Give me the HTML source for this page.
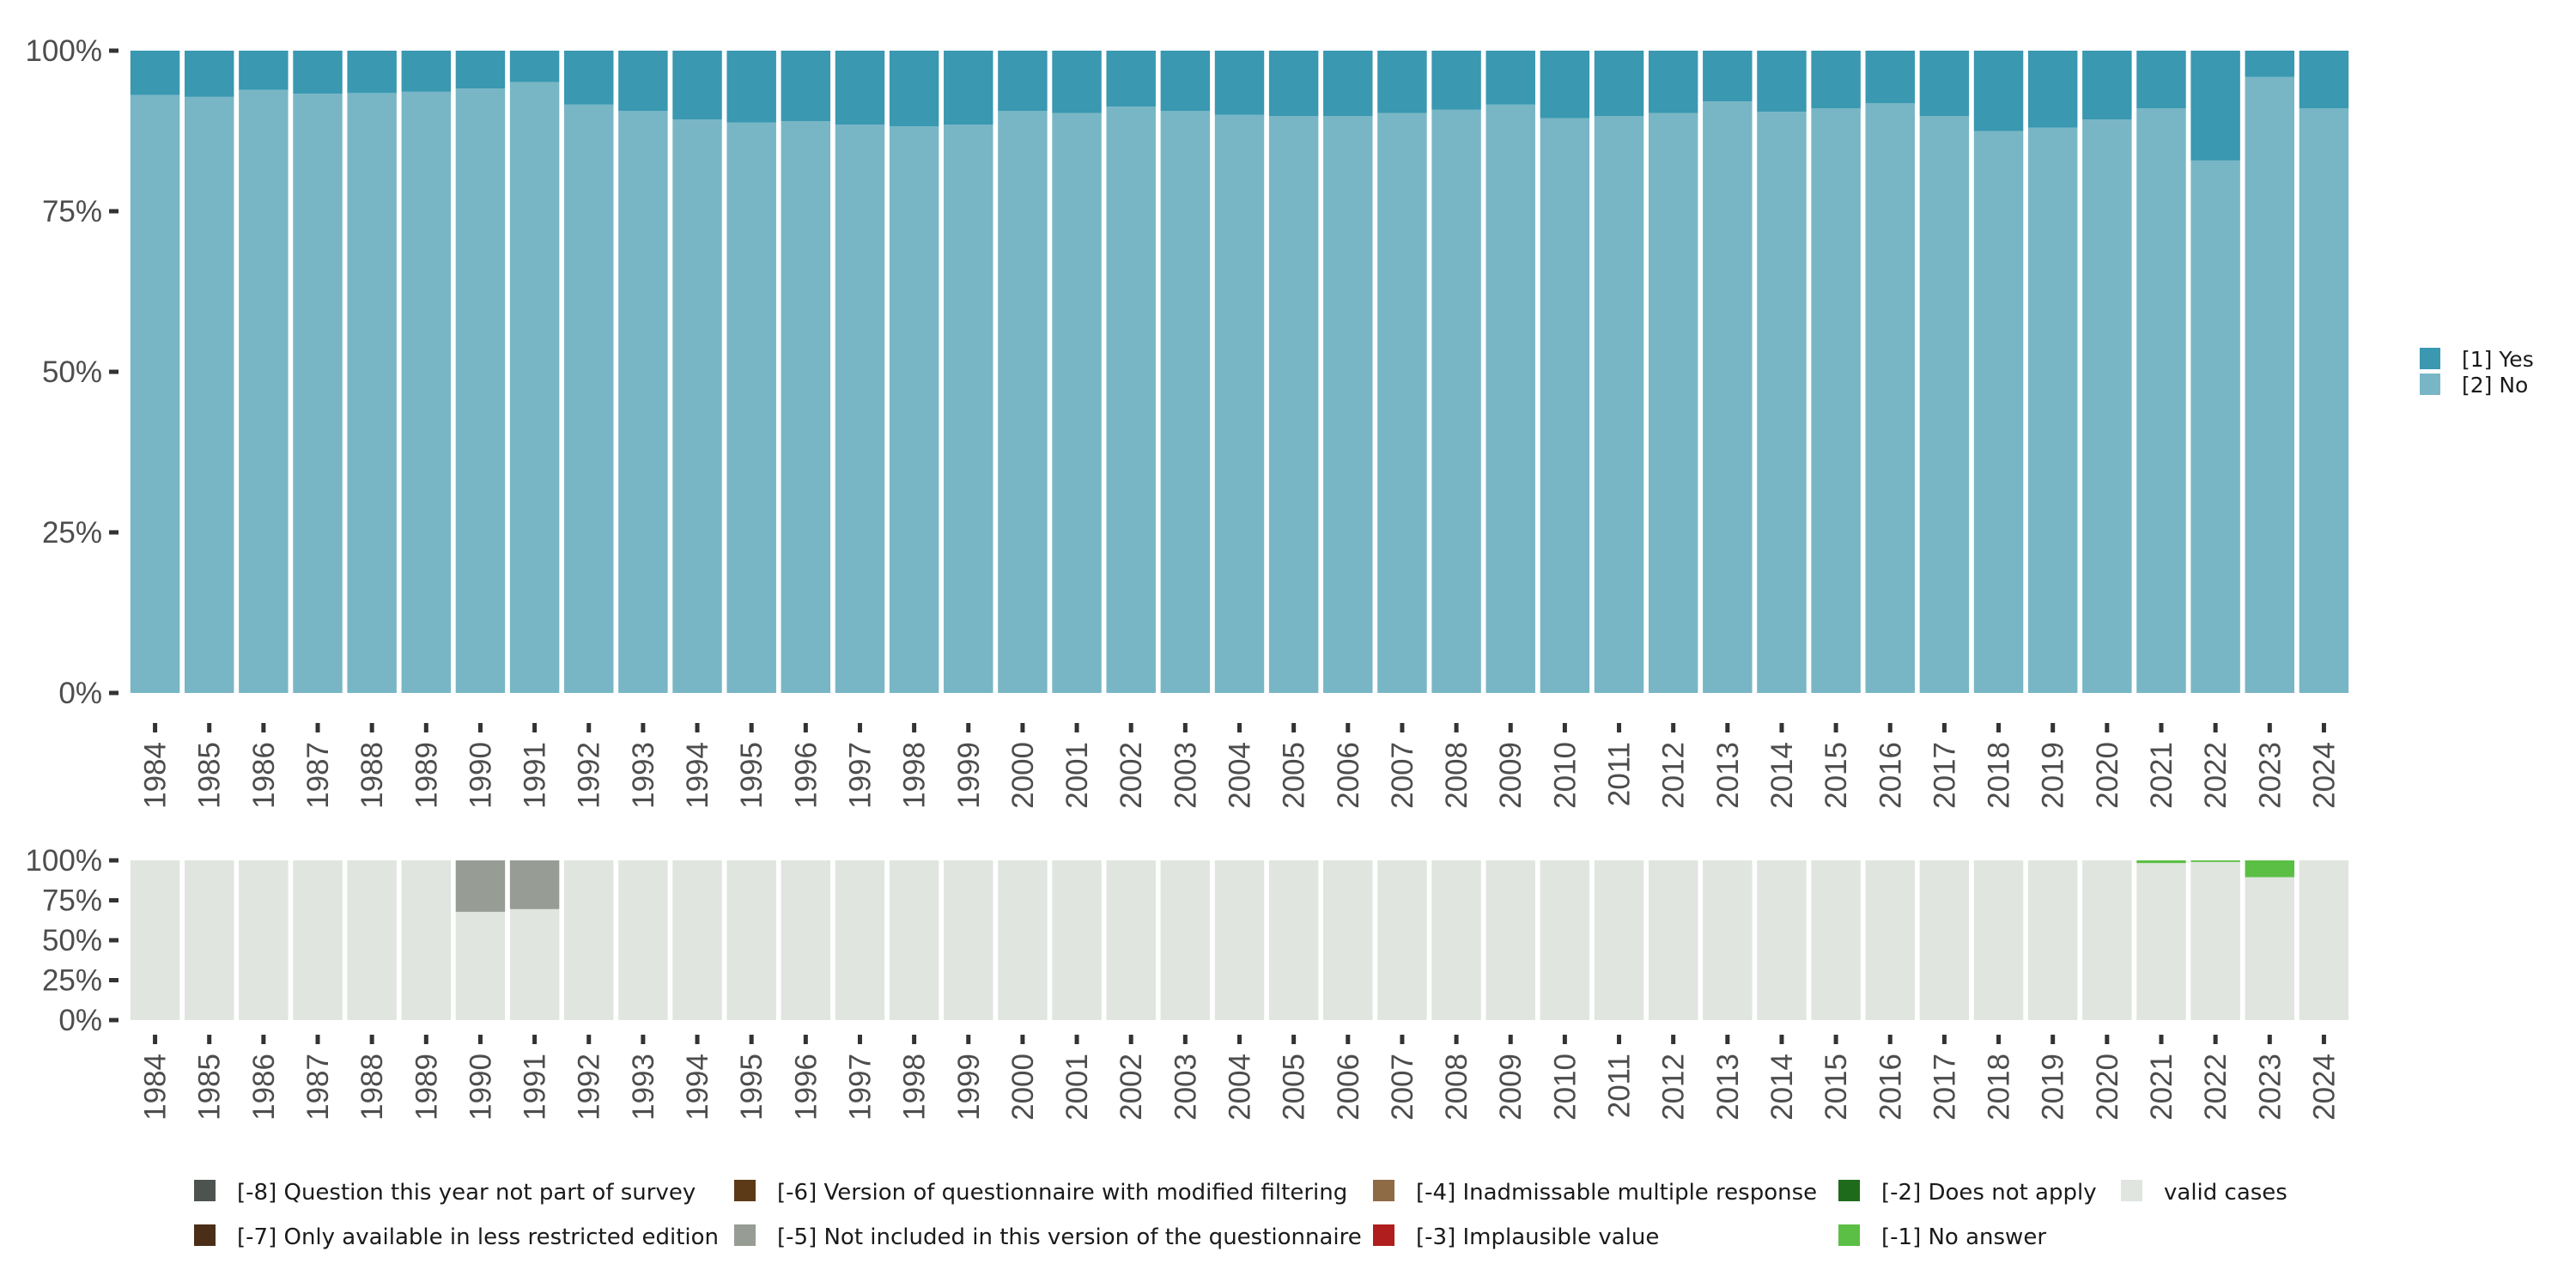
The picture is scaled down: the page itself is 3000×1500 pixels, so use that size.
<!DOCTYPE html>
<html><head><meta charset="utf-8">
<style>
html,body{margin:0;padding:0;background:#fff;}
svg{display:block;font-family:"Liberation Sans","DejaVu Sans",sans-serif;}
</style></head>
<body>
<svg id="chart" width="3000" height="1500" viewBox="0 0 3000 1500" xmlns="http://www.w3.org/2000/svg">
<g id="top"></g>
<g id="bottom"></g>
<g id="legend-right"></g>
<g id="legend-bottom"></g>
</svg>
<script>
const years = [1984,1985,1986,1987,1988,1989,1990,1991,1992,1993,1994,1995,1996,1997,1998,1999,2000,2001,2002,2003,2004,2005,2006,2007,2008,2009,2010,2011,2012,2013,2014,2015,2016,2017,2018,2019,2020,2021,2022,2023,2024];
const noPct = [93.1,92.8,93.9,93.3,93.4,93.6,94.1,95.1,91.6,90.6,89.3,88.8,89.0,88.5,88.2,88.5,90.6,90.3,91.3,90.6,90.0,89.8,89.8,90.3,90.8,91.6,89.5,89.8,90.3,92.1,90.5,91.0,91.8,89.8,87.5,88.0,89.3,91.0,82.9,95.9,91.0];
const validPct = [100,100,100,100,100,100,67.8,69.5,100,100,100,100,100,100,100,100,100,100,100,100,100,100,100,100,100,100,100,100,100,100,100,100,100,100,100,100,100,98.3,99.0,89.5,100];
const notIncludedPct = [0,0,0,0,0,0,32.2,30.5,0,0,0,0,0,0,0,0,0,0,0,0,0,0,0,0,0,0,0,0,0,0,0,0,0,0,0,0,0,0,0,0,0];
const noAnswerPct = [0,0,0,0,0,0,0,0,0,0,0,0,0,0,0,0,0,0,0,0,0,0,0,0,0,0,0,0,0,0,0,0,0,0,0,0,0,1.7,1.0,10.5,0];
const yTicks = [0,25,50,75,100];
const yTickLabels = ["0%","25%","50%","75%","100%"];
const legendBottomLabels = ["[-8] Question this year not part of survey","[-7] Only available in less restricted edition","[-6] Version of questionnaire with modified filtering","[-5] Not included in this version of the questionnaire","[-4] Inadmissable multiple response","[-3] Implausible value","[-2] Does not apply","[-1] No answer","valid cases"];
const legendBottomColors = ["#4d5450","#4a2e17","#5c3a17","#979c95","#8e6a45","#b01e1e","#1e6b1c","#5cbf45","#e0e5e0"];

const NS="http://www.w3.org/2000/svg";
function mk(parent,tag,attrs){const e=document.createElementNS(NS,tag);for(const k in attrs)e.setAttribute(k,attrs[k]);parent.appendChild(e);return e;}
const X0=149,X1=2738,band=(X1-X0)/years.length,bw=band*0.91;
const xPos=i=>X0+band*i+(band-bw)/2;
const xMid=i=>X0+band*(i+0.5);

function panel(g,top,bottom,stacks,labelTickY){
  const ys=v=>bottom-(bottom-top)*v/100;
  yTicks.forEach((t,k)=>{
    const tk=mk(g,'rect',{x:127,y:ys(t)-2.5,width:11,height:5,fill:'#333'});
    
    
    const tx=mk(g,'text',{x:119,y:ys(t)+12,'text-anchor':'end','font-size':35,fill:'#4d4d4d'});
    tx.textContent=yTickLabels[k];
    
    
  });
  years.forEach((yr,i)=>{
    let base=0;
    stacks.forEach(s=>{
      const v=s.vals[i];
      if(v>0){
        const r=mk(g,'rect',{x:xPos(i),y:ys(base+v),width:bw,height:ys(base)-ys(base+v),fill:s.color});
        
        
      }
      base+=v;
    });
    const tk=mk(g,'rect',{x:xMid(i)-2.5,y:labelTickY,width:5,height:11,fill:'#333'});
    
    
    const tx=mk(g,'text',{x:0,y:0,'text-anchor':'end','font-size':35,fill:'#4d4d4d',transform:`translate(${xMid(i)+12},${labelTickY+22}) rotate(-90)`});
    tx.textContent=yr;
    
    
  });
}
const yesPct=noPct.map(v=>100-v);
panel(document.getElementById('top'),59,807,[{name:'no',vals:noPct,color:'#78b6c5'},{name:'yes',vals:yesPct,color:'#3a98b1'}],842);
panel(document.getElementById('bottom'),1002,1188,[{name:'valid',vals:validPct,color:'#e0e5e0'},{name:'not-included',vals:notIncludedPct,color:'#979c95'},{name:'no-answer',vals:noAnswerPct,color:'#5cbf45'}],1205);

const lr=document.getElementById('legend-right');
[["[1] Yes","#3a98b1"],["[2] No","#78b6c5"]].forEach((d,k)=>{
  const r=mk(lr,'rect',{x:2818,y:405+k*30,width:24,height:25,fill:d[1]});
  
  
  const t=mk(lr,'text',{x:2867,y:427+k*30,'font-size':25,fill:'#1a1a1a','font-family':'DejaVu Sans, sans-serif'});
  t.textContent=d[0];
  
  
});

const lb=document.getElementById('legend-bottom');
const colX=[226,855,1599,2141,2470],rowY=[1387,1439];
const order=[[0,0,0],[1,0,1],[2,1,0],[3,1,1],[4,2,0],[5,2,1],[6,3,0],[7,3,1],[8,4,0]];
order.forEach(o=>{
  const [idx,c,r]=o;
  const x=colX[c], y=rowY[r];
  const sw=mk(lb,'rect',{x:x,y:y-13,width:25,height:25,fill:legendBottomColors[idx]});
  
  
  const t=mk(lb,'text',{x:x+50,y:y+10,'font-size':26,fill:'#1a1a1a','font-family':'DejaVu Sans, sans-serif'});
  t.textContent=legendBottomLabels[idx];
  
  
});
</script>
</body></html>
